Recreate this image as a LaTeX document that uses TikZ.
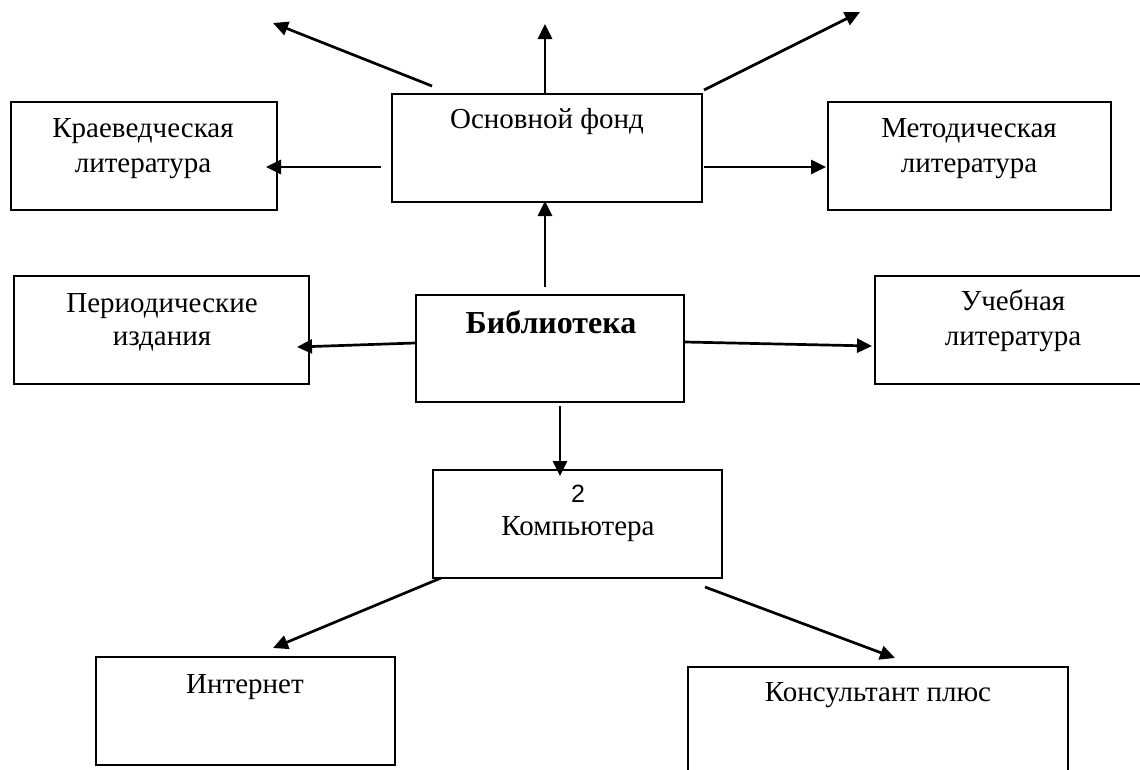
\documentclass[tikz,border=0pt]{standalone}
\usepackage{fontspec}
\setmainfont{Liberation Serif}
\newfontfamily\sansarial{Liberation Sans}
\usetikzlibrary{arrows.meta,calc,fit}
\begin{document}
\begin{tikzpicture}[x=1pt,y=-1pt,
  box/.style={draw, line width=2pt, inner sep=0pt},
  txt/.style={anchor=base, inner sep=0pt, font=\fontsize{29}{35}\selectfont},
  conn/.style={line width=2.7pt, -{Triangle[length=15pt,width=14pt]}}]
\useasboundingbox (0,0) rectangle (1140,769);
\clip (0,0) rectangle (1140,769);
\fill[white] (0,0) rectangle (1140,769);
% boxes
\node[box, fit={(392,94) (702,202)}] (fond) {};
\node[box, fit={(11,102) (277,210)}] (kraev) {};
\node[box, fit={(828,102) (1111,210)}] (metod) {};
\node[box, fit={(14,276) (309,384)}] (period) {};
\node[box, fit={(416,295) (684,402)}] (bib) {};
\node[box, fit={(875,276) (1170,384)}] (ucheb) {};
\node[box, fit={(433,470) (722,578)}] (comp) {};
\node[box, fit={(96,657) (395,765)}] (inet) {};
\node[box, fit={(688,667) (1068,800)}] (kons) {};
% texts
\node[txt] (fondT) at (547,128) {Основной фонд};
\node[txt] (kraevT1) at (143,137) {Краеведческая};
\node[txt] (kraevT2) at (143,172) {литература};
\node[txt] (metodT1) at (969,137) {Методическая};
\node[txt] (metodT2) at (969,172) {литература};
\node[txt] (periodT1) at (162,312) {Периодические};
\node[txt] (periodT2) at (162,345) {издания};
\node[txt] (uchebT1) at (1013,310) {Учебная};
\node[txt] (uchebT2) at (1013,345) {литература};
\node[txt, font=\fontsize{32}{38}\selectfont\bfseries] (bibT) at (551,333) {Библиотека};
\node[txt, font=\fontsize{25}{30}\selectfont\sansarial] (compN) at (578,502) {2};
\node[txt] (compT) at (578,535) {Компьютера};
\node[txt] (inetT) at (245,693) {Интернет};
\node[txt] (konsT) at (878,701) {Консультант плюс};
% free ends
\coordinate (ulEnd) at (273,23);
\coordinate (upEnd) at (545,24);
\coordinate (urEnd) at (860,12);
% connectors
\draw[conn] ($(fond.north west)+(41,-7)$) -- (ulEnd);
\draw[conn] ($(fond.north)+(-2,0)$) -- (upEnd);
\draw[conn] ($(fond.north east)+(1,-3)$) -- (urEnd);
\draw[conn] ($(fond.south west)+(-10,-36)$) -- ($(kraev.south east)+(-12,-44)$);
\draw[conn] ($(fond.south east)+(1,-36)$) -- ($(metod.south west)+(-1,-44)$);
\draw[conn] ($(bib.north)+(-5,-7)$) -- ($(fond.south)+(-2,-2)$);
\draw[conn] ($(bib.west)+(0,-5.5)$) -- ($(period.east)+(-13,17)$);
\draw[conn] ($(bib.east)+(0,-6.5)$) -- ($(ucheb.west)+(-2,16)$);
\draw[conn] ($(bib.south)+(10,3)$) -- ($(comp.north)+(-17.5,7)$);
\draw[conn] ($(comp.south west)+(9,-1)$) -- ($(inet.north)+(27.5,-8)$);
\draw[conn] ($(comp.south east)+(-18,8)$) -- ($(kons.north)+(17,-8)$);
\end{tikzpicture}
\end{document}
